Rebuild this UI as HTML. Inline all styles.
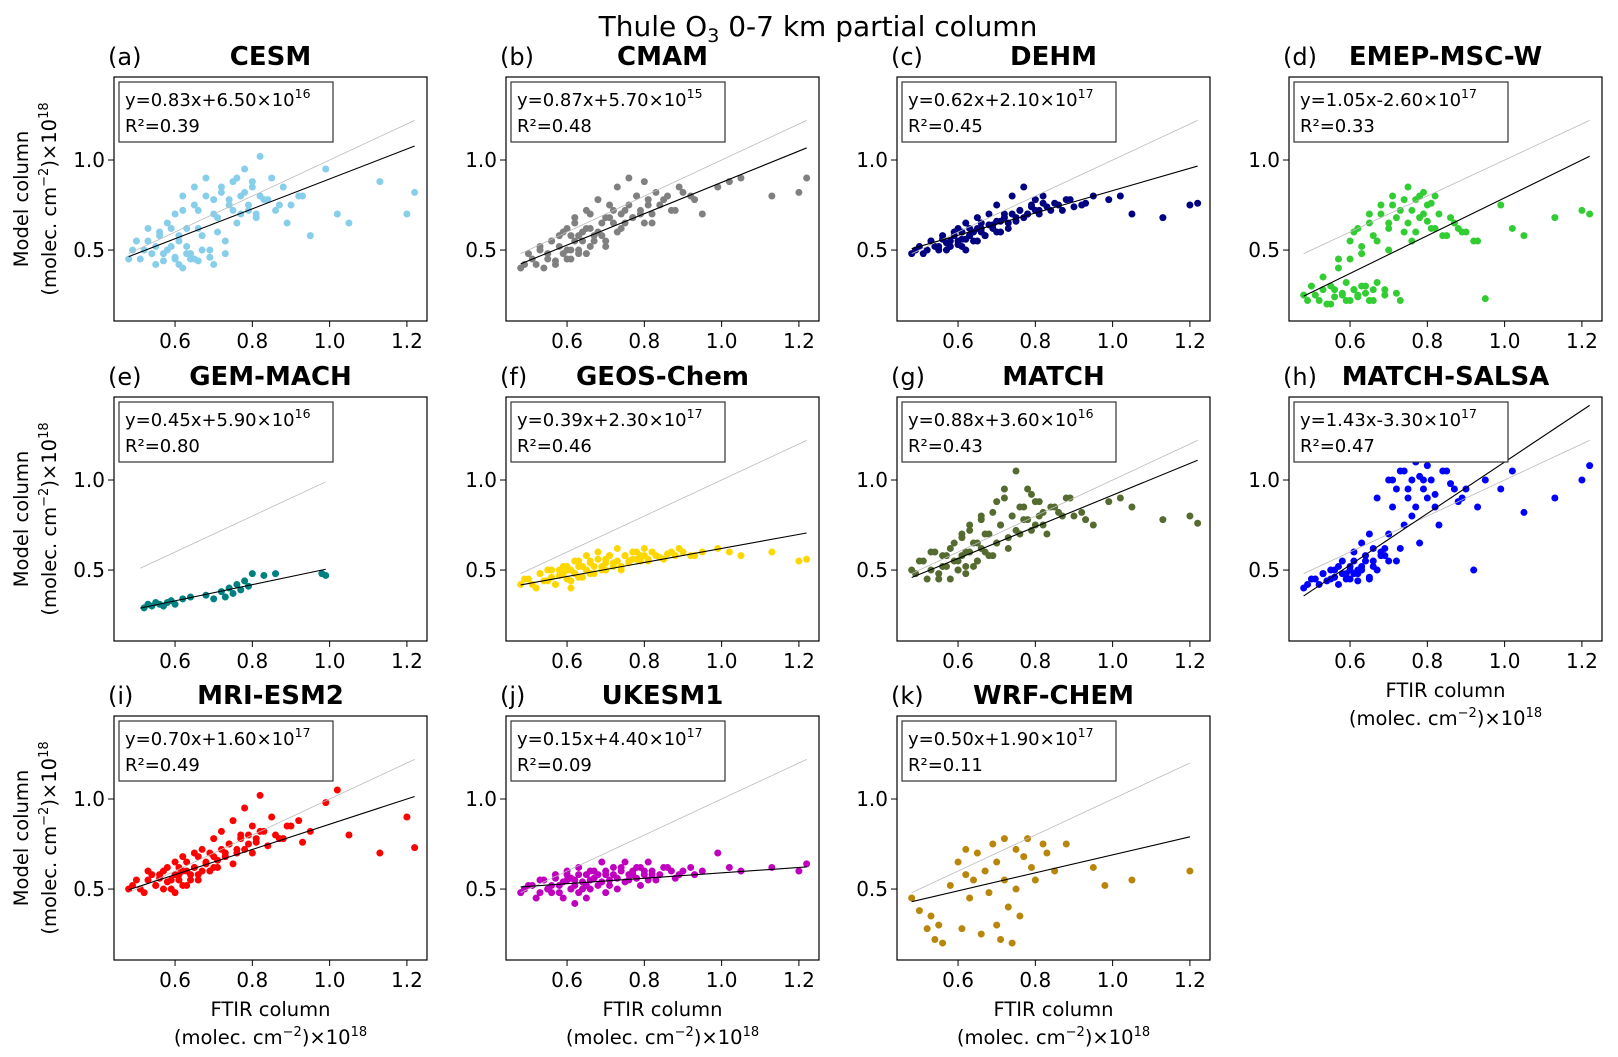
<!DOCTYPE html>
<html><head><meta charset="utf-8">
<style>
html,body{margin:0;padding:0;background:#fff;}
svg{display:block;font-family:"DejaVu Sans","Liberation Sans",sans-serif;}
</style></head>
<body>
<svg id="fig" width="1618" height="1057" viewBox="0 0 1618 1057" xmlns="http://www.w3.org/2000/svg">
<text x="818" y="36" font-size="28" text-anchor="middle">Thule O<tspan font-size="19" dy="6">3</tspan><tspan dy="-6"> 0-7 km partial column</tspan></text>
</svg>
<script>
const ftir=[0.48,0.50,0.52,0.53,0.55,0.56,0.57,0.58,0.59,0.60,0.60,0.61,0.62,0.62,0.63,0.64,0.65,0.65,0.66,0.67,0.68,0.69,0.70,0.70,0.71,0.72,0.73,0.74,0.75,0.76,0.77,0.78,0.79,0.80,0.81,0.82,0.83,0.85,0.87,0.89,0.92,0.95,0.99,1.02,1.05,1.13,1.20,1.22];
const ftir2=[0.49,0.51,0.53,0.54,0.55,0.56,0.57,0.58,0.59,0.60,0.61,0.61,0.62,0.63,0.63,0.64,0.65,0.66,0.66,0.67,0.68,0.69,0.70,0.71,0.72,0.73,0.74,0.75,0.76,0.77,0.78,0.79,0.80,0.81,0.82,0.84,0.86,0.88,0.90,0.93];
const cesm=[0.45,0.55,0.50,0.62,0.42,0.58,0.48,0.65,0.52,0.45,0.70,0.55,0.40,0.80,0.62,0.48,0.85,0.45,0.72,0.58,0.90,0.50,0.78,0.42,0.68,0.82,0.55,0.75,0.88,0.65,0.80,0.95,0.72,0.85,0.68,1.02,0.78,0.90,0.75,0.65,0.80,0.58,0.95,0.70,0.65,0.88,0.70,0.82];
const cesm2=[0.50,0.45,0.55,0.48,0.52,0.60,0.44,0.50,0.62,0.46,0.58,0.42,0.72,0.48,0.52,0.45,0.75,0.44,0.62,0.50,0.80,0.46,0.70,0.60,0.85,0.48,0.78,0.72,0.90,0.70,0.82,0.75,0.88,0.70,0.80,0.78,0.72,0.85,0.75,0.80];
const cmam=[0.40,0.48,0.42,0.52,0.45,0.55,0.42,0.58,0.48,0.50,0.62,0.45,0.55,0.68,0.50,0.60,0.72,0.48,0.62,0.55,0.78,0.58,0.68,0.52,0.75,0.65,0.85,0.62,0.72,0.90,0.68,0.80,0.70,0.88,0.75,0.65,0.82,0.78,0.72,0.85,0.80,0.70,0.85,0.88,0.90,0.80,0.82,0.90];
const cmam2=[0.42,0.45,0.50,0.40,0.48,0.55,0.44,0.52,0.60,0.45,0.58,0.50,0.65,0.48,0.58,0.55,0.62,0.52,0.70,0.58,0.60,0.65,0.55,0.68,0.72,0.60,0.70,0.65,0.75,0.68,0.80,0.72,0.65,0.78,0.70,0.75,0.80,0.72,0.82,0.78];
const dehm=[0.48,0.52,0.50,0.55,0.52,0.58,0.50,0.55,0.60,0.53,0.62,0.56,0.50,0.65,0.58,0.60,0.55,0.68,0.62,0.58,0.70,0.64,0.60,0.75,0.66,0.70,0.62,0.80,0.68,0.72,0.85,0.70,0.75,0.78,0.72,0.80,0.74,0.76,0.72,0.78,0.75,0.80,0.78,0.80,0.70,0.68,0.75,0.76];
const dehm2=[0.50,0.48,0.55,0.52,0.50,0.56,0.54,0.52,0.58,0.55,0.60,0.52,0.56,0.62,0.58,0.55,0.62,0.60,0.65,0.58,0.64,0.62,0.66,0.60,0.68,0.65,0.70,0.66,0.72,0.68,0.70,0.74,0.72,0.70,0.76,0.72,0.75,0.78,0.74,0.76];
const emep=[0.25,0.30,0.22,0.35,0.20,0.28,0.45,0.25,0.32,0.55,0.22,0.28,0.62,0.25,0.48,0.30,0.70,0.22,0.58,0.32,0.75,0.28,0.65,0.50,0.80,0.26,0.72,0.60,0.85,0.55,0.78,0.68,0.82,0.75,0.62,0.80,0.70,0.58,0.65,0.60,0.55,0.23,0.75,0.62,0.58,0.68,0.72,0.70];
const emep2=[0.22,0.25,0.28,0.20,0.30,0.24,0.40,0.26,0.22,0.45,0.28,0.60,0.24,0.30,0.52,0.26,0.65,0.22,0.28,0.55,0.70,0.25,0.62,0.75,0.68,0.22,0.78,0.65,0.72,0.60,0.80,0.70,0.66,0.76,0.62,0.58,0.68,0.62,0.60,0.55];
const gemX=[0.52,0.53,0.54,0.55,0.56,0.57,0.58,0.59,0.60,0.62,0.64,0.68,0.70,0.72,0.73,0.74,0.75,0.76,0.77,0.78,0.79,0.80,0.83,0.86,0.98,0.99];
const gemY=[0.29,0.31,0.30,0.32,0.31,0.30,0.32,0.33,0.31,0.34,0.35,0.36,0.34,0.38,0.35,0.40,0.37,0.42,0.39,0.44,0.41,0.48,0.47,0.48,0.48,0.47];
const geos=[0.42,0.45,0.40,0.48,0.44,0.50,0.42,0.47,0.52,0.45,0.50,0.40,0.55,0.48,0.52,0.46,0.58,0.50,0.55,0.48,0.60,0.52,0.56,0.50,0.58,0.54,0.62,0.52,0.58,0.55,0.60,0.56,0.58,0.62,0.55,0.60,0.58,0.56,0.60,0.62,0.58,0.60,0.62,0.60,0.58,0.60,0.55,0.56];
const geos2=[0.45,0.42,0.48,0.44,0.50,0.46,0.42,0.50,0.48,0.52,0.44,0.50,0.48,0.55,0.46,0.52,0.50,0.54,0.48,0.52,0.56,0.50,0.54,0.58,0.52,0.55,0.50,0.58,0.54,0.56,0.60,0.55,0.58,0.56,0.60,0.57,0.59,0.58,0.60,0.58];
const match=[0.50,0.55,0.45,0.60,0.48,0.52,0.58,0.45,0.65,0.50,0.55,0.70,0.48,0.60,0.75,0.52,0.65,0.55,0.80,0.60,0.70,0.58,0.88,0.65,0.75,0.95,0.62,0.80,1.05,0.70,0.85,0.78,0.92,0.75,0.88,0.82,0.70,0.85,0.80,0.90,0.82,0.75,0.88,0.90,0.85,0.78,0.80,0.76];
const match2=[0.48,0.55,0.50,0.60,0.45,0.58,0.52,0.62,0.55,0.50,0.68,0.58,0.52,0.72,0.60,0.65,0.55,0.78,0.62,0.70,0.58,0.82,0.65,0.75,0.90,0.68,0.80,0.72,0.85,0.78,0.95,0.72,0.88,0.80,0.75,0.85,0.82,0.90,0.80,0.78];
const salsa=[0.40,0.45,0.42,0.48,0.45,0.50,0.42,0.55,0.48,0.45,0.52,0.60,0.48,0.50,0.65,0.55,0.45,0.70,0.52,0.90,0.58,0.62,1.00,0.70,0.85,0.55,1.05,0.75,0.95,0.80,1.10,0.65,1.00,0.90,1.15,0.85,0.75,1.05,0.95,0.90,0.50,1.00,0.95,1.05,0.82,0.90,1.00,1.08];
const salsa2=[0.42,0.45,0.48,0.44,0.50,0.46,0.52,0.48,0.45,0.50,0.55,0.48,0.44,0.52,0.50,0.58,0.46,0.55,0.62,0.50,0.60,0.58,0.55,1.00,0.95,0.62,1.05,0.90,1.00,0.85,1.02,0.95,1.08,1.00,0.92,1.05,0.98,0.88,0.95,0.85];
const mri=[0.50,0.55,0.48,0.60,0.52,0.58,0.50,0.62,0.55,0.48,0.65,0.58,0.52,0.68,0.60,0.55,0.70,0.62,0.58,0.72,0.65,0.60,0.78,0.68,0.62,0.82,0.70,0.75,0.88,0.72,0.80,0.95,0.75,0.85,0.78,1.02,0.82,0.90,0.78,0.85,0.88,0.82,0.98,1.05,0.80,0.70,0.90,0.73];
const mri2=[0.52,0.50,0.55,0.58,0.52,0.56,0.60,0.54,0.50,0.58,0.62,0.55,0.60,0.52,0.65,0.58,0.62,0.55,0.68,0.60,0.64,0.70,0.62,0.66,0.72,0.68,0.75,0.64,0.70,0.78,0.72,0.80,0.70,0.76,0.82,0.74,0.80,0.78,0.85,0.76];
const ukesm=[0.48,0.52,0.45,0.55,0.50,0.48,0.58,0.52,0.45,0.55,0.60,0.50,0.42,0.55,0.62,0.50,0.58,0.45,0.55,0.60,0.52,0.65,0.48,0.58,0.55,0.62,0.50,0.60,0.65,0.55,0.58,0.62,0.52,0.60,0.65,0.58,0.55,0.62,0.60,0.58,0.62,0.60,0.70,0.62,0.60,0.62,0.60,0.64];
const ukesm2=[0.50,0.52,0.48,0.55,0.50,0.52,0.56,0.48,0.54,0.58,0.50,0.56,0.52,0.48,0.58,0.54,0.52,0.60,0.50,0.56,0.58,0.54,0.60,0.52,0.58,0.56,0.62,0.54,0.58,0.60,0.56,0.62,0.58,0.55,0.60,0.58,0.62,0.56,0.60,0.58];
const wrfX=[0.48,0.50,0.52,0.53,0.54,0.55,0.56,0.58,0.60,0.61,0.62,0.62,0.63,0.64,0.65,0.66,0.67,0.68,0.69,0.70,0.70,0.71,0.72,0.72,0.73,0.74,0.75,0.75,0.76,0.77,0.78,0.79,0.80,0.82,0.83,0.85,0.88,0.95,0.98,1.05,1.20];
const wrfY=[0.45,0.38,0.28,0.35,0.22,0.30,0.20,0.52,0.65,0.28,0.58,0.72,0.45,0.55,0.70,0.25,0.60,0.48,0.75,0.30,0.65,0.22,0.78,0.55,0.40,0.20,0.72,0.50,0.35,0.68,0.78,0.62,0.55,0.75,0.70,0.60,0.75,0.62,0.52,0.55,0.60];
const xTicks=[0.6,0.8,1.0,1.2];
const xTickLabels=["0.6","0.8","1.0","1.2"];
const yTicks=[0.5,1.0];
const yTickLabels=["0.5","1.0"];
const panelNames=["CESM","CMAM","DEHM","EMEP-MSC-W","GEM-MACH","GEOS-Chem","MATCH","MATCH-SALSA","MRI-ESM2","UKESM1","WRF-CHEM"];
const slopes=[0.83,0.87,0.62,1.05,0.45,0.39,0.88,1.43,0.70,0.15,0.50];
const intercepts=[0.065,0.0057,0.21,-0.26,0.059,0.23,0.036,-0.33,0.16,0.44,0.19];
const eqTexts=["0.83x+6.50","0.87x+5.70","0.62x+2.10","1.05x-2.60","0.45x+5.90","0.39x+2.30","0.88x+3.60","1.43x-3.30","0.70x+1.60","0.15x+4.40","0.50x+1.90"];
const eqExps=["16","15","17","17","16","17","16","17","17","17","17"];
const r2Texts=["0.39","0.48","0.45","0.33","0.80","0.46","0.43","0.47","0.49","0.09","0.11"];
const lineRanges=[[0.48,1.22],[0.48,1.22],[0.48,1.22],[0.48,1.22],[0.51,0.99],[0.48,1.22],[0.48,1.22],[0.48,1.22],[0.48,1.22],[0.48,1.22],[0.48,1.20]];
const xsData=[ftir,ftir,ftir,ftir,gemX,ftir,ftir,ftir,ftir,ftir,wrfX];
const ysData=[cesm,cmam,dehm,emep,gemY,geos,match,salsa,mri,ukesm,wrfY];
const ys2Data=[cesm2,cmam2,dehm2,emep2,null,geos2,match2,salsa2,mri2,ukesm2,null];

const colors=["#87ceeb","#808080","#000080","#32cd32","#008080","#ffd700","#556b2f","#0000ff","#ff0000","#bf00bf","#b8860b"];
const NS="http://www.w3.org/2000/svg";
const svg=document.getElementById("fig");
const colLeft=[114,506,897,1289], rowTop=[77,397,716], W=313, H=244;
const XMIN=0.442,XMAX=1.252,YMIN=0.106,YMAX=1.461;
function mk(tag,attrs,parent){const e=document.createElementNS(NS,tag);for(const k in attrs)e.setAttribute(k,attrs[k]);(parent||svg).appendChild(e);return e;}
for(let p=0;p<11;p++){
  const L=colLeft[p%4],T=rowTop[Math.floor(p/4)];
  const sx=v=>L+(v-XMIN)/(XMAX-XMIN)*W;
  const sy=v=>T+H-(v-YMIN)/(YMAX-YMIN)*H;
  const g=mk("g",{});
  
  
  const lab=mk("text",{x:L-6,y:T-12,"font-size":24},g);lab.textContent="("+"abcdefghijk"[p]+")";
  
  
  const ti=mk("text",{x:L+W/2,y:T-12,"font-size":26,"font-weight":"bold","text-anchor":"middle"},g);ti.textContent=panelNames[p];
  
  
  const xs=xsData[p],ys=ysData[p];
  for(let i=0;i<xs.length;i++){
    const c=mk("circle",{cx:sx(xs[i]),cy:sy(ys[i]),r:3.5,fill:colors[p]},g);
    
    
  }
  const ys2=ys2Data[p];
  if(ys2){
    for(let i=0;i<ftir2.length;i++){
      const c=mk("circle",{cx:sx(ftir2[i]),cy:sy(ys2[i]),r:3.5,fill:colors[p]},g);
      
      
    }
  }
  const [a,b]=lineRanges[p];
  const one=mk("line",{x1:sx(a),y1:sy(a),x2:sx(b),y2:sy(b),stroke:"#bbb","stroke-width":0.8},g);
  
  
  const fit=mk("line",{x1:sx(a),y1:sy(slopes[p]*a+intercepts[p]),x2:sx(b),y2:sy(slopes[p]*b+intercepts[p]),stroke:"#000","stroke-width":1.1},g);
  
  
  const fr=mk("rect",{x:L,y:T,width:W,height:H,fill:"none",stroke:"#000","stroke-width":1.2},g);
  
  
  xTicks.forEach((v,i)=>{
    mk("line",{x1:sx(v),x2:sx(v),y1:T+H,y2:T+H+6,stroke:"#000"},g);
    const t=mk("text",{x:sx(v),y:T+H+27,"font-size":20,"text-anchor":"middle"},g);t.textContent=xTickLabels[i];
    
    
  });
  yTicks.forEach((v,i)=>{
    mk("line",{x1:L-6,x2:L,y1:sy(v),y2:sy(v),stroke:"#000"},g);
    const t=mk("text",{x:L-9,y:sy(v)+7,"font-size":20,"text-anchor":"end"},g);t.textContent=yTickLabels[i];
    
    
  });
  const bx=mk("rect",{x:L+5,y:T+5,width:214,height:60,fill:"#fff",stroke:"#333","stroke-width":1.2},g);
  
  
  const eq=mk("text",{x:L+11,y:T+29,"font-size":18},g);
  eq.innerHTML="y="+eqTexts[p]+"×10<tspan font-size=\"12.5\" dy=\"-8\">"+eqExps[p]+"</tspan>";
  
  
  const r2=mk("text",{x:L+11,y:T+55,"font-size":18},g);r2.textContent="R²="+r2Texts[p];
  
  
  if(p%4===0){
    const cy=T+H/2;
    const y1=mk("text",{x:0,y:0,"font-size":19.5,"text-anchor":"middle",transform:`translate(28,${cy}) rotate(-90)`},g);y1.textContent="Model column";
    
    
    const y2=mk("text",{x:0,y:0,"font-size":19.5,"text-anchor":"middle",transform:`translate(56,${cy}) rotate(-90)`},g);
    y2.innerHTML="(molec. cm<tspan font-size=\"13\" dy=\"-8\">−2</tspan><tspan dy=\"8\">)×10</tspan><tspan font-size=\"13\" dy=\"-8\">18</tspan>";
    
    
  }
  if(p>=7){
    const x1=mk("text",{x:L+W/2,y:T+H+56,"font-size":19.5,"text-anchor":"middle"},g);x1.textContent="FTIR column";
    
    
    const x2=mk("text",{x:L+W/2,y:T+H+84,"font-size":19.5,"text-anchor":"middle"},g);
    x2.innerHTML="(molec. cm<tspan font-size=\"13\" dy=\"-8\">−2</tspan><tspan dy=\"8\">)×10</tspan><tspan font-size=\"13\" dy=\"-8\">18</tspan>";
    
    
  }
}
</script>
</body></html>
